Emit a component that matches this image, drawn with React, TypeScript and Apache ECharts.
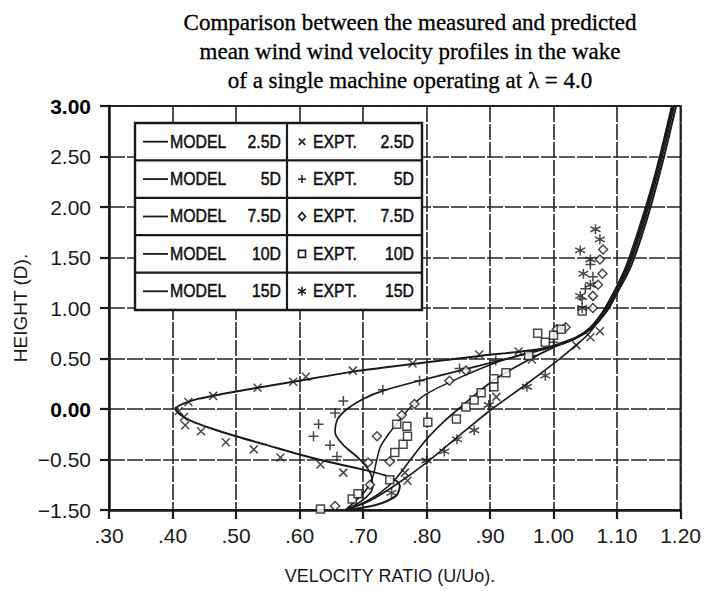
import React, { useEffect, useRef } from "react";
import * as echarts from "echarts";

// ---- tick labels ----
const xTickLabels = [".30", ".40", ".50", ".60", ".70", ".80", ".90", "1.00", "1.10", "1.20"];
const yTickLabels = ["\u22121.50", "\u22120.50", "0.00", "0.50", "1.00", "1.50", "2.00", "2.50", "3.00"];

const titleLines = [
  "Comparison between the measured and predicted",
  "mean wind wind velocity profiles in the wake",
  "of a single machine operating at \u03bb = 4.0",
];

// ---- model curves [U/Uo, height] ----
const model25 = [
  [0.672, -1.0], [0.72, -0.95], [0.752, -0.86], [0.758, -0.76], [0.74, -0.67], [0.70, -0.6],
  [0.65, -0.53], [0.60, -0.45], [0.55, -0.36], [0.50, -0.27], [0.46, -0.19], [0.43, -0.12],
  [0.413, -0.06], [0.405, 0.0], [0.416, 0.05], [0.44, 0.1], [0.48, 0.15], [0.534, 0.21],
  [0.59, 0.27], [0.684, 0.37], [0.727, 0.405], [0.778, 0.445], [0.883, 0.525], [0.95, 0.57],
  [1.0, 0.62], [1.035, 0.7], [1.06, 0.8], [1.083, 0.96], [1.102, 1.17], [1.123, 1.43],
  [1.148, 1.9], [1.17, 2.4], [1.193, 3.0],
];
const model5 = [
  [0.672, -1.0], [0.70, -0.9], [0.715, -0.78], [0.712, -0.64], [0.695, -0.5], [0.668, -0.35],
  [0.656, -0.23], [0.66, -0.1], [0.675, 0.0], [0.70, 0.1], [0.731, 0.18], [0.789, 0.28],
  [0.852, 0.38], [0.909, 0.47], [0.96, 0.55], [1.0, 0.62], [1.035, 0.7], [1.06, 0.8],
  [1.082, 0.96], [1.1, 1.17], [1.12, 1.43], [1.145, 1.9], [1.167, 2.4], [1.19, 3.0],
];
const model75 = [
  [0.672, -1.0], [0.69, -0.9], [0.705, -0.8], [0.715, -0.68], [0.72, -0.55], [0.727, -0.38],
  [0.74, -0.25], [0.755, -0.13], [0.775, 0.02], [0.80, 0.15], [0.852, 0.31], [0.914, 0.47],
  [0.96, 0.56], [1.0, 0.63], [1.035, 0.71], [1.058, 0.81], [1.079, 0.96], [1.098, 1.17],
  [1.118, 1.43], [1.143, 1.9], [1.165, 2.4], [1.188, 3.0],
];
const model10 = [
  [0.672, -1.0], [0.70, -0.93], [0.727, -0.83], [0.75, -0.7], [0.775, -0.5], [0.80, -0.3],
  [0.828, -0.12], [0.852, 0.01], [0.88, 0.16], [0.909, 0.3], [0.956, 0.47], [1.0, 0.61],
  [1.035, 0.7], [1.057, 0.8], [1.077, 0.96], [1.096, 1.17], [1.117, 1.43], [1.142, 1.9],
  [1.164, 2.4], [1.187, 3.0],
];
const model15 = [
  [0.672, -1.0], [0.71, -0.91], [0.747, -0.77], [0.80, -0.53], [0.852, -0.26], [0.903, 0.0],
  [0.956, 0.24], [1.008, 0.49], [1.035, 0.63], [1.056, 0.75], [1.076, 0.92], [1.094, 1.14],
  [1.115, 1.43], [1.14, 1.9], [1.163, 2.4], [1.186, 3.0],
];

// ---- experimental points [U/Uo, height] ----
const expt25 = [
  [0.41, -0.02], [0.418, -0.08], [0.42, -0.16], [0.445, -0.22], [0.484, -0.33], [0.528, -0.4],
  [0.57, -0.48], [0.633, -0.55], [0.669, -0.63], [0.425, 0.07], [0.464, 0.13], [0.534, 0.21],
  [0.59, 0.27], [0.61, 0.32], [0.684, 0.38], [0.778, 0.45], [0.883, 0.54], [0.945, 0.57],
  [0.966, 0.49], [0.91, 0.12], [0.766, -0.63], [0.77, -0.71], [1.036, 0.63], [1.058, 0.71],
  [1.073, 0.77],
];
const expt5 = [
  [0.669, 0.08], [0.656, -0.04], [0.63, -0.15], [0.622, -0.27], [0.648, -0.36], [0.659, -0.47],
  [0.731, 0.19], [0.789, 0.28], [0.852, 0.4], [0.909, 0.48], [0.966, 0.53], [1.0, 0.66],
  [1.058, 1.43], [1.062, 1.31], [1.05, 1.19], [1.045, 1.09],
];
const expt75 = [
  [0.656, -0.96], [0.711, -0.75], [0.708, -0.53], [0.722, -0.27], [0.742, -0.52], [0.761, -0.06],
  [0.781, 0.05], [0.836, 0.28], [0.862, 0.38], [1.005, 0.79], [1.019, 0.81], [1.062, 1.0],
  [1.062, 1.12], [1.07, 1.23], [1.077, 1.34], [1.073, 1.48], [1.078, 1.58],
];
const expt10 = [
  [0.633, -0.99], [0.683, -0.89], [0.692, -0.84], [0.742, -0.7], [0.75, -0.43], [0.763, -0.35],
  [0.77, -0.27], [0.769, -0.17], [0.753, -0.15], [0.802, -0.13], [0.847, -0.1], [0.862, 0.02],
  [0.875, 0.09], [0.886, 0.16], [0.906, 0.22], [0.906, 0.3], [0.925, 0.36], [0.961, 0.53],
  [0.975, 0.75], [0.987, 0.66], [1.0, 0.73], [1.012, 0.79], [1.045, 0.97],
];
const expt15 = [
  [0.8, -0.51], [0.828, -0.42], [0.848, -0.3], [0.875, -0.21], [0.898, 0.04], [0.958, 0.22],
  [0.987, 0.33], [0.745, -0.83], [1.045, 1.0], [1.042, 1.12], [1.058, 1.23], [1.047, 1.34],
  [1.058, 1.48], [1.042, 1.57], [1.073, 1.68], [1.066, 1.78],
];

const legendRows = [
  { model: "MODEL", mNum: "2.5D", expt: "EXPT.", eNum: "2.5D", mark: "cross" },
  { model: "MODEL", mNum: "5D", expt: "EXPT.", eNum: "5D", mark: "plus" },
  { model: "MODEL", mNum: "7.5D", expt: "EXPT.", eNum: "7.5D", mark: "diamond" },
  { model: "MODEL", mNum: "10D", expt: "EXPT.", eNum: "10D", mark: "square" },
  { model: "MODEL", mNum: "15D", expt: "EXPT.", eNum: "15D", mark: "star" },
];

const INK = "#1a1a1a";
const SANS = '"Liberation Sans", Arial, sans-serif';
const SERIF = '"Liberation Serif", "Times New Roman", serif';

const SYM_CROSS = "path://M0,0L10,10M10,0L0,10";
const SYM_PLUS = "path://M5,0L5,10M0,5L10,5";
const SYM_STAR = "path://M5,0L5,10M0.7,2.5L9.3,7.5M0.7,7.5L9.3,2.5";

function markerGraphic(kind: string, cx: number, cy: number) {
  const s = 3.2;
  const st = { stroke: INK, lineWidth: 1.5, fill: "none" };
  if (kind === "cross") {
    return [
      { type: "line", shape: { x1: cx - s, y1: cy - s, x2: cx + s, y2: cy + s }, style: st, z: 101 },
      { type: "line", shape: { x1: cx - s, y1: cy + s, x2: cx + s, y2: cy - s }, style: st, z: 101 },
    ];
  }
  if (kind === "plus") {
    return [
      { type: "line", shape: { x1: cx - 4, y1: cy, x2: cx + 4, y2: cy }, style: st, z: 101 },
      { type: "line", shape: { x1: cx, y1: cy - 4, x2: cx, y2: cy + 4 }, style: st, z: 101 },
    ];
  }
  if (kind === "diamond") {
    return [
      { type: "polygon", shape: { points: [[cx, cy - 4], [cx + 3.5, cy], [cx, cy + 4], [cx - 3.5, cy]] }, style: { stroke: INK, lineWidth: 1.6, fill: "#fff" }, z: 101 },
    ];
  }
  if (kind === "square") {
    return [
      { type: "rect", shape: { x: cx - 3.5, y: cy - 3.5, width: 7, height: 7 }, style: { stroke: INK, lineWidth: 1.6, fill: "#fff" }, z: 101 },
    ];
  }
  return [
    { type: "line", shape: { x1: cx, y1: cy - 4.5, x2: cx, y2: cy + 4.5 }, style: st, z: 101 },
    { type: "line", shape: { x1: cx - 3.9, y1: cy - 2.3, x2: cx + 3.9, y2: cy + 2.3 }, style: st, z: 101 },
    { type: "line", shape: { x1: cx - 3.9, y1: cy + 2.3, x2: cx + 3.9, y2: cy - 2.3 }, style: st, z: 101 },
  ];
}

function buildLegend() {
  const LX = 135, LY = 123, LW = 287, RH = 37.4, DIV = 287;
  const els: any[] = [];
  els.push({
    type: "rect",
    shape: { x: LX, y: LY, width: LW, height: RH * legendRows.length },
    style: { fill: "#fff", stroke: INK, lineWidth: 2.4 },
    z: 100,
  });
  els.push({ type: "line", shape: { x1: DIV, y1: LY, x2: DIV, y2: LY + RH * legendRows.length }, style: { stroke: INK, lineWidth: 2.2 }, z: 101 });
  legendRows.forEach((r, i) => {
    const cy = LY + RH * i + RH / 2;
    if (i > 0) {
      els.push({ type: "line", shape: { x1: LX, y1: LY + RH * i, x2: LX + LW, y2: LY + RH * i }, style: { stroke: INK, lineWidth: 2.2 }, z: 101 });
    }
    els.push({ type: "line", shape: { x1: 143, y1: cy, x2: 168, y2: cy }, style: { stroke: INK, lineWidth: 1.8 }, z: 101 });
    const tf = { font: `18px ${SANS}`, fill: "#111", stroke: "#111", lineWidth: 0.5, textVerticalAlign: "middle" };
    els.push({ type: "text", x: 170, y: cy, scaleX: 0.88, style: { ...tf, text: r.model, textAlign: "left" }, z: 101 });
    els.push({ type: "text", x: 281, y: cy, scaleX: 0.88, style: { ...tf, text: r.mNum, textAlign: "right" }, z: 101 });
    markerGraphic(r.mark, 302, cy).forEach((m) => els.push(m));
    els.push({ type: "text", x: 313, y: cy, scaleX: 0.88, style: { ...tf, text: r.expt, textAlign: "left" }, z: 101 });
    els.push({ type: "text", x: 414, y: cy, scaleX: 0.88, style: { ...tf, text: r.eNum, textAlign: "right" }, z: 101 });
  });
  return els;
}

export default function App() {
  const ref = useRef<HTMLDivElement>(null);
  useEffect(() => {
    if (!ref.current) return;
    const chart = echarts.init(ref.current, undefined, { renderer: "svg" });
    const lineSeries = (name: string, data: number[][], w: number) => ({
      name,
      type: "line",
      data,
      showSymbol: false,
      symbol: "none",
      smooth: 0.3,
      lineStyle: { color: INK, width: w },
      z: 3,
    });
    const scatter = (name: string, data: number[][], symbol: string, size: number, hollow: boolean) => ({
      name,
      type: "scatter",
      data,
      symbol,
      symbolSize: size,
      itemStyle: hollow
        ? { color: "#fff", borderColor: INK, borderWidth: 1.5 }
        : { color: "rgba(0,0,0,0)", borderColor: INK, borderWidth: 1.5 },
      z: 4,
    });
    const split = { show: true, lineStyle: { color: "#262626", width: 1.6, type: [16, 2] } };
    chart.setOption({
      animation: false,
      backgroundColor: "#fff",
      grid: {
        left: 109, right: 17, top: 106, bottom: 81,
        show: true, borderColor: INK, borderWidth: 2, backgroundColor: "transparent",
      },
      xAxis: {
        type: "value",
        min: 0.3, max: 1.2, interval: 0.1,
        axisLine: { show: true, onZero: false, lineStyle: { color: INK, width: 2.5 } },
        axisTick: { show: true, length: 9, lineStyle: { color: INK, width: 2.2 } },
        splitLine: split,
        axisLabel: {
          margin: 15, color: INK, fontSize: 21, fontFamily: SANS,
          formatter: (v: number) => xTickLabels[Math.round((v - 0.3) / 0.1)] ?? "",
        },
      },
      yAxis: {
        type: "value",
        min: -1, max: 3, interval: 0.5,
        axisLine: { show: true, onZero: false, lineStyle: { color: INK, width: 2.5 } },
        axisTick: { show: true, length: 9, lineStyle: { color: INK, width: 2.2 } },
        splitLine: split,
        axisLabel: {
          margin: 18, color: INK, fontSize: 21, fontFamily: SANS,
          formatter: (v: number) => {
            const t = yTickLabels[Math.round((v + 1) / 0.5)] ?? "";
            return t === "3.00" || t === "0.00" ? `{b|${t}}` : t;
          },
          rich: { b: { fontWeight: "bold", fontSize: 21, fontFamily: SANS, color: "#000" } },
        },
      },
      series: [
        lineSeries("MODEL 2.5D", model25, 2),
        lineSeries("MODEL 5D", model5, 1.7),
        lineSeries("MODEL 7.5D", model75, 1.5),
        lineSeries("MODEL 10D", model10, 1.7),
        lineSeries("MODEL 15D", model15, 1.6),
        scatter("EXPT. 2.5D", expt25, SYM_CROSS, 8, false),
        scatter("EXPT. 5D", expt5, SYM_PLUS, 10, false),
        scatter("EXPT. 7.5D", expt75, "diamond", 9, true),
        scatter("EXPT. 10D", expt10, "rect", 8, true),
        scatter("EXPT. 15D", expt15, SYM_STAR, 10, false),
      ],
      graphic: [
        {
          type: "text", x: 410, y: 8, z: 50,
          style: { text: titleLines.join("\n"), textAlign: "center", font: `23px ${SERIF}`, lineHeight: 29, fill: "#000", stroke: "#000", lineWidth: 0.3 },
        },
        {
          type: "text", x: 390, y: 576, z: 50,
          style: { text: "VELOCITY RATIO (U/Uo).", textAlign: "center", textVerticalAlign: "middle", font: `18px ${SANS}`, fill: INK },
        },
        {
          type: "text", x: 20, y: 308, rotation: Math.PI / 2, z: 50,
          style: { text: "HEIGHT (D).", textAlign: "center", textVerticalAlign: "middle", font: `19px ${SANS}`, fill: INK },
        },
        ...buildLegend(),
      ],
    });
    return () => chart.dispose();
  }, []);
  return <div ref={ref} style={{ width: 704, height: 591, position: "absolute", left: 0, top: 0 }} />;
}
